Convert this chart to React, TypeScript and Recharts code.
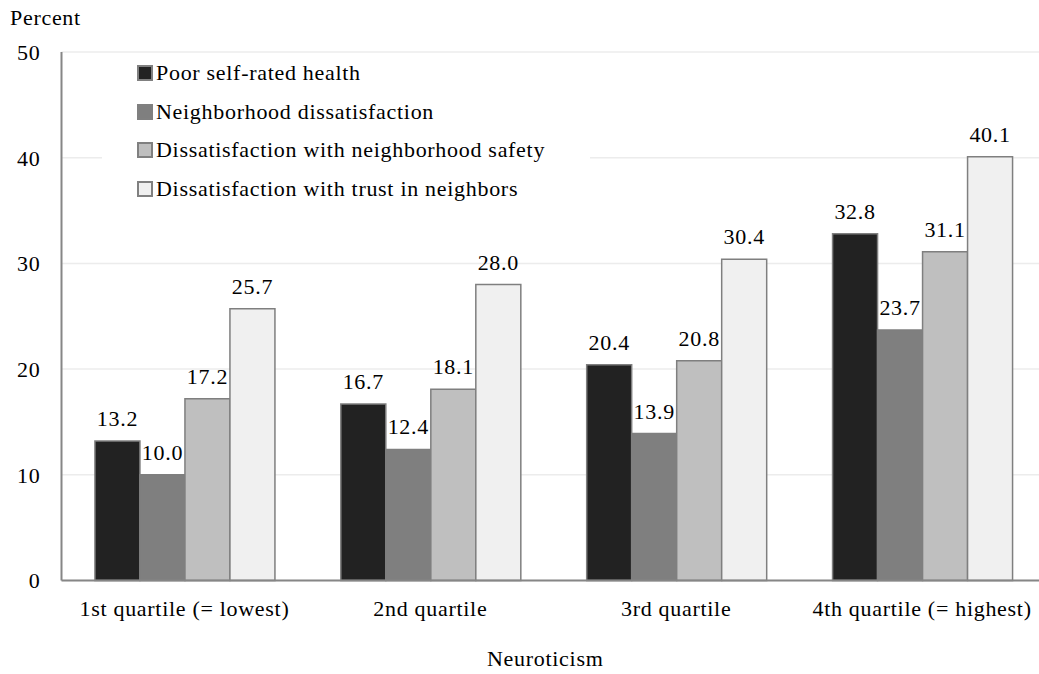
import { BarChart, Bar, XAxis, YAxis, CartesianGrid, Legend, LabelList } from "recharts";

const categories = ["1st quartile (= lowest)", "2nd quartile", "3rd quartile", "4th quartile (= highest)"];
const poorHealth = [13.2, 16.7, 20.4, 32.8];
const neighborhoodDissat = [10.0, 12.4, 13.9, 23.7];
const safetyDissat = [17.2, 18.1, 20.8, 31.1];
const trustDissat = [25.7, 28.0, 30.4, 40.1];
const yTicks = [0, 10, 20, 30, 40, 50];

const seriesNames = [
  "Poor self-rated health",
  "Neighborhood dissatisfaction",
  "Dissatisfaction with neighborhood safety",
  "Dissatisfaction with trust in neighbors",
];
const seriesColors = ["#222222", "#7f7f7f", "#bfbfbf", "#f0f0f0"];

const chartData = categories.map((c, i) => ({
  name: c,
  s0: poorHealth[i],
  s1: neighborhoodDissat[i],
  s2: safetyDissat[i],
  s3: trustDissat[i],
}));

const FONT = "Liberation Serif, Times New Roman, serif";
const FS = 22;
const LS = 0.7;
const textStyle = { fontFamily: FONT, fontSize: FS, letterSpacing: LS, fill: "#000" };

const LegendBox = (props: any) => {
  const items = props.payload || [];
  return (
    <div style={{ paddingLeft: 35, fontFamily: FONT, fontSize: FS, letterSpacing: LS, color: "#000" }}>
      {items.map((it: any) => (
        <div key={it.value} style={{ display: "flex", alignItems: "center", height: 38.5 }}>
          <span
            style={{
              display: "inline-block",
              width: 12,
              height: 12,
              background: it.color,
              border: "2px solid #808080",
              marginRight: 3,
            }}
          />
          <span>{it.value}</span>
        </div>
      ))}
    </div>
  );
};

const App = () => {
  return (
    <div
      style={{
        position: "fixed",
        top: 0,
        left: 0,
        width: 1039,
        height: 674,
        overflow: "hidden",
        background: "#fff",
        fontFamily: FONT,
      }}
    >
      <BarChart
        width={1060}
        height={674}
        data={chartData}
        margin={{ top: 52, right: 15, bottom: 0, left: 0 }}
        barGap={0}
        barCategoryGap="13.6%"
      >
        <CartesianGrid vertical={false} stroke="#ececec" strokeWidth={1.5} />
        <XAxis
          dataKey="name"
          height={93.5}
          tickLine={false}
          tickSize={0}
          tickMargin={20}
          axisLine={{ stroke: "#868686", strokeWidth: 2 }}
          tick={textStyle}
          interval={0}
          label={{
            content: ({ viewBox }: any) => (
              <text
                x={viewBox.x + viewBox.width / 2 - 8}
                y={666}
                textAnchor="middle"
                fontFamily={FONT}
                fontSize={FS}
                letterSpacing={LS}
                fill="#000"
              >
                Neuroticism
              </text>
            ),
          }}
        />
        <YAxis
          width={61.5}
          domain={[0, 50]}
          ticks={yTicks}
          interval={0}
          tickLine={false}
          tickSize={0}
          tickMargin={21}
          axisLine={{ stroke: "#868686", strokeWidth: 2 }}
          tick={textStyle}
          label={{
            content: ({ viewBox }: any) => (
              <text
                x={viewBox.x + 10}
                y={viewBox.y - 27}
                fontFamily={FONT}
                fontSize={FS}
                letterSpacing={LS}
                fill="#000"
              >
                Percent
              </text>
            ),
          }}
        />
        <Legend
          layout="vertical"
          align="center"
          verticalAlign="middle"
          itemSorter="dataKey"
          content={<LegendBox />}
          wrapperStyle={{ left: 102, top: 54, width: 488, background: "#fff" }}
        />
        {seriesNames.map((n, i) => (
          <Bar
            key={n}
            dataKey={`s${i}`}
            name={n}
            fill={seriesColors[i]}
            stroke="#7f7f7f"
            strokeWidth={1.5}
            isAnimationActive={false}
          >
            <LabelList
              dataKey={`s${i}`}
              position="top"
              offset={15}
              formatter={(v: any) => Number(v).toFixed(1)}
              fontFamily={FONT}
              fontSize={FS}
              letterSpacing={LS}
              fill="#000"
            />
          </Bar>
        ))}
      </BarChart>
    </div>
  );
};

export default App;
